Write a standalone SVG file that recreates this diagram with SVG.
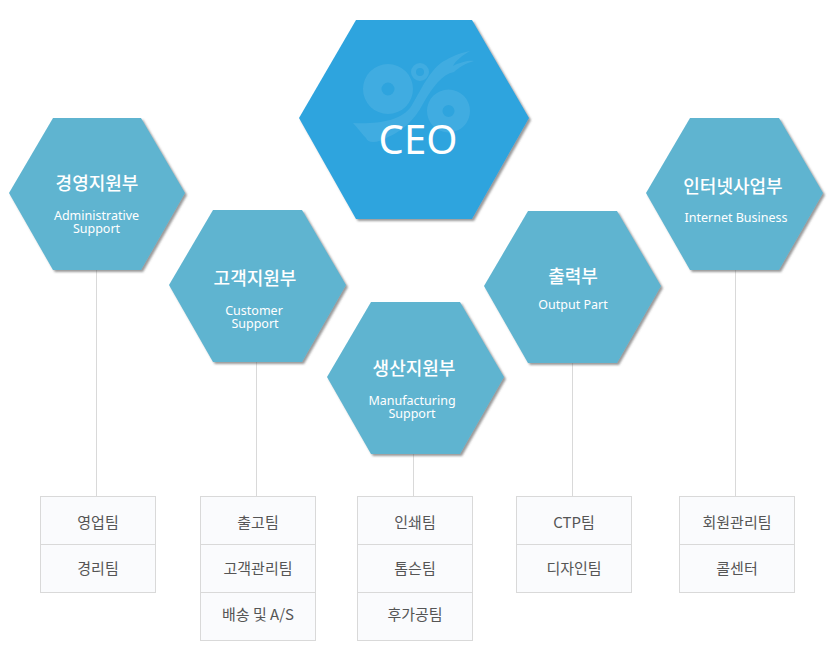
<svg xmlns="http://www.w3.org/2000/svg" width="829" height="668" viewBox="0 0 829 668">
<style>
text{text-anchor:middle;font-family:"Noto Sans CJK KR","Noto Sans",sans-serif}
.hex{fill:#5fb4d0;filter:url(#sh)}
.ceo{fill:#2ea4de;filter:url(#sh)}
.t{font-size:18px;font-weight:500;fill:#fff}
.s{font-size:12.5px;fill:#fff;font-family:"Noto Sans","Open Sans",sans-serif}
.b{fill:#fafbfd;stroke:#d9d9d9;stroke-width:1}
.l{font-size:15px;fill:#555}
.c{stroke:#d9d9d9;stroke-width:1;fill:none}
.logo{fill:#fff;opacity:.09}
</style>
<defs><filter id="sh" x="-10%" y="-10%" width="125%" height="125%"><feDropShadow dx="2" dy="2" stdDeviation="1.2" flood-color="#555" flood-opacity=".6"/></filter></defs>
<g id="connectors">
<path class="c" d="M96.500 270V496M256.500 362V496M413.500 454V496M572.500 363V496M735.500 270V496"/>
</g>
<g id="ceo">
<polygon class="ceo" points="356,20 472,20 529,118 472,219 356,219 299,118"/>
<path class="logo" fill-rule="evenodd" d="M363 89a25 25 0 1 0 50 0a25 25 0 1 0 -50 0zM381.500 89a6.500 6.500 0 1 1 13 0a6.500 6.500 0 1 1 -13 0z"/>
<path class="logo" fill-rule="evenodd" d="M411 72a9 9 0 1 0 18 0a9 9 0 1 0 -18 0zM416 72a4 4 0 1 1 8 0a4 4 0 1 1 -8 0z"/>
<path class="logo" fill-rule="evenodd" d="M427 111a21.500 21.500 0 1 0 43 0a21.500 21.500 0 1 0 -43 0zM442.500 111a6 6 0 1 1 12 0a6 6 0 1 1 -12 0z"/>
<path class="logo" d="M353 123C375 124 402 122 412 105C422 88 432 66 446 60C454 55 464 52 470 51C462 56 456 60 453 66C460 62 470 60 474 61C466 63 458 68 454 72C442 74 432 88 424 102C414 122 400 132 388 137C378 143 368 144 366 138C362 134 358 128 353 123Z"/>
<text x="418" y="154" font-size="40" fill="#fff" style="font-family:'Noto Sans','Open Sans',sans-serif">CEO</text>
</g>
<g id="n1">
<polygon class="hex" points="53,118 141,118 185,193 141,270 53,270 9,193"/>
<text class="t" x="97" y="190">경영지원부</text>
<text class="s" x="96.500" y="220">Administrative</text>
<text class="s" x="96.500" y="233">Support</text>
</g>
<g id="n2">
<polygon class="hex" points="213,210 302,210 346,285 302,362 213,362 169,285"/>
<text class="t" x="255" y="285">고객지원부</text>
<text class="s" x="254" y="315">Customer</text>
<text class="s" x="255" y="328">Support</text>
</g>
<g id="n3">
<polygon class="hex" points="371,302 460,302 504,377 460,454 371,454 327,377"/>
<text class="t" x="414" y="375">생산지원부</text>
<text class="s" x="412" y="405">Manufacturing</text>
<text class="s" x="412" y="418">Support</text>
</g>
<g id="n4">
<polygon class="hex" points="528,211 617,211 661,286 617,363 528,363 484,286"/>
<text class="t" x="573" y="283">출력부</text>
<text class="s" x="573" y="309">Output Part</text>
</g>
<g id="n5">
<polygon class="hex" points="690,118 779,118 823,193 779,270 690,270 646,193"/>
<text class="t" x="733" y="193">인터넷사업부</text>
<text class="s" x="736" y="222">Internet Business</text>
</g>
<g id="d1">
<rect class="b" x="40.500" y="496.500" width="115" height="48"/><rect class="b" x="40.500" y="544.500" width="115" height="48"/>
<text class="l" x="98" y="528">영업팀</text><text class="l" x="98" y="574">경리팀</text>
</g>
<g id="d2">
<rect class="b" x="200.500" y="496.500" width="115" height="48"/><rect class="b" x="200.500" y="544.500" width="115" height="48"/><rect class="b" x="200.500" y="592.500" width="115" height="48"/>
<text class="l" x="258" y="528">출고팀</text><text class="l" x="258" y="574">고객관리팀</text><text class="l" x="258" y="620">배송 및 A/S</text>
</g>
<g id="d3">
<rect class="b" x="357.500" y="496.500" width="115" height="48"/><rect class="b" x="357.500" y="544.500" width="115" height="48"/><rect class="b" x="357.500" y="592.500" width="115" height="48"/>
<text class="l" x="415" y="528">인쇄팀</text><text class="l" x="415" y="574">톰슨팀</text><text class="l" x="415" y="620">후가공팀</text>
</g>
<g id="d4">
<rect class="b" x="516.500" y="496.500" width="115" height="48"/><rect class="b" x="516.500" y="544.500" width="115" height="48"/>
<text class="l" x="574" y="528">CTP팀</text><text class="l" x="574" y="574">디자인팀</text>
</g>
<g id="d5">
<rect class="b" x="679.500" y="496.500" width="115" height="48"/><rect class="b" x="679.500" y="544.500" width="115" height="48"/>
<text class="l" x="737" y="528">회원관리팀</text><text class="l" x="737" y="574">콜센터</text>
</g>
</svg>
